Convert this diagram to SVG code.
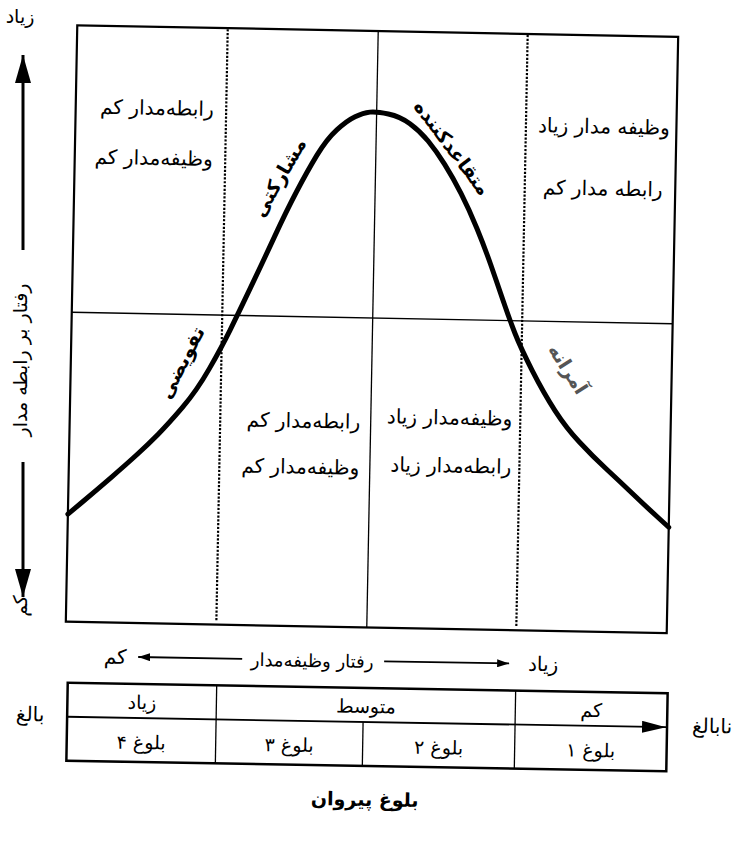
<svg xmlns="http://www.w3.org/2000/svg" width="738" height="845" viewBox="0 0 738 845">
<style>
.t{font-family:"DejaVu Sans",sans-serif;font-size:20px;fill:#000}
.m{font-size:19px}
.s{font-size:18px}
.b{font-weight:bold;font-size:19px}
.frame{fill:none;stroke:#000;stroke-width:2.2}
.thin{stroke:#000;stroke-width:1.3;fill:none}
.dot{stroke:#000;stroke-width:2.2;stroke-dasharray:2.2 1.6;fill:none}
.curve{fill:none;stroke:#000;stroke-width:5;stroke-linecap:round;stroke-linejoin:round}
.ax{stroke:#000;stroke-width:3;fill:none}
.ar{stroke:#000;stroke-width:1.8;fill:none}
</style>
<defs>
<marker id="bigh" viewBox="0 0 28 16" markerWidth="28" markerHeight="16" refX="28" refY="8" markerUnits="userSpaceOnUse" orient="auto">
<path d="M0,0 L28,8 L0,16 z" fill="#000"/>
</marker>
<marker id="sm" viewBox="0 0 12 8" markerWidth="12" markerHeight="8" refX="12" refY="4" markerUnits="userSpaceOnUse" orient="auto">
<path d="M0,0 L12,4 L0,8 z" fill="#000"/>
</marker>
<marker id="tb" viewBox="0 0 24 12" markerWidth="24" markerHeight="12" refX="24" refY="6" markerUnits="userSpaceOnUse" orient="auto">
<path d="M0,0 L24,6 L0,12 z" fill="#000"/>
</marker>
</defs>
<rect width="738" height="845" fill="#fff"/>

<g id="chart" transform="rotate(1.1 372 329)">
<rect class="frame" x="71.5" y="31" width="601" height="596.5"/>
<line class="thin" x1="71.5" y1="318" x2="672.5" y2="318"/>
<line class="thin" x1="372.5" y1="31" x2="372.5" y2="627.5"/>
<line class="dot" x1="222" y1="32" x2="222" y2="624"/>
<line class="dot" x1="522" y1="32" x2="522" y2="624"/>
<path id="curve" class="curve" d="M71.5,520 L85.75,507.5 Q100,495 114.5,482 Q129,469 139.5,459 Q150,449 160,438.5 Q170,428 184,411 Q198,394 210,372 Q222,350 230,333 Q238,316 250,289.5 Q262,263 273,238 Q284,213 294,193 Q304,173 313.5,156.5 Q323,140 333,130.5 Q343,121 351,117 Q359,113 365.75,112.2 Q372.5,111.4 384.25,113.7 Q396,116 406,123 Q416,130 424.5,140 Q433,150 441.5,163 Q450,176 458.5,192 Q467,208 475,226.5 Q483,245 489.5,262.5 Q496,280 502.5,298 Q509,316 515,330.5 Q521,345 533,367.5 Q545,390 556.5,407 Q568,424 581.5,438 Q595,452 609,464.5 Q623,477 635.5,488.5 Q648,500 660.25,510.75 L672.5,521.5"/>
<g id="q-tl">
<text class="t" x="209.5" y="119" text-anchor="end">رابطه‌مدار کم</text>
<text class="t" x="209.5" y="169" text-anchor="end">وظیفه‌مدار کم</text>
</g>
<g id="q-tr">
<text class="t" x="600" y="129" text-anchor="middle">وظیفه مدار زیاد</text>
<text class="t" x="600" y="191" text-anchor="middle">رابطه مدار کم</text>
</g>
<g id="q-bl">
<text class="t" x="362" y="429" text-anchor="end">رابطه‌مدار کم</text>
<text class="t" x="362" y="475" text-anchor="end">وظیفه‌مدار کم</text>
</g>
<g id="q-br">
<text class="t" x="514" y="423" text-anchor="end">وظیفه‌مدار زیاد</text>
<text class="t" x="514" y="471" text-anchor="end">رابطه‌مدار زیاد</text>
</g>
<g id="style-s3"><text class="t b" transform="translate(276 179) rotate(-61)" y="7" text-anchor="middle">مشارکتی</text></g>
<g id="style-s2"><text class="t b" transform="translate(449 146) rotate(52)" y="7" text-anchor="middle">متقاعدکننده</text></g>
<g id="style-s4"><text class="t b" transform="translate(182 366) rotate(-64)" y="7" text-anchor="middle">تفویضی</text></g>
<g id="style-s1"><text class="t b" transform="translate(569 365) rotate(56.5)" y="7" text-anchor="middle" style="fill:#555">آمرانه</text></g>
</g>

<g id="y-axis">
<text class="t m" x="20" y="23" text-anchor="middle">زیاد</text>
<text class="t m" transform="translate(27 360) rotate(-90)" text-anchor="middle">رفتار بر رابطه مدار</text>
<text class="t m" transform="translate(27 606) rotate(-90)" text-anchor="middle">کم</text>
</g>

<g id="x-axis" transform="rotate(1 367 727)">
<text class="t" x="114" y="668" text-anchor="middle">کم</text>
<text class="t s" x="311" y="668" text-anchor="middle">رفتار وظیفه‌مدار</text>
<text class="t" x="542" y="668" text-anchor="middle">زیاد</text>
</g>

<g id="maturity-table" transform="rotate(1 367 727)">
<rect x="67" y="688" width="600" height="78" fill="none" stroke="#000" stroke-width="2.5"/>
<line class="thin" x1="216" y1="688" x2="216" y2="766"/>
<line class="thin" x1="515" y1="688" x2="515" y2="766"/>
<line class="thin" x1="363" y1="722" x2="363" y2="766"/>
<text class="t m" x="141.5" y="713" text-anchor="middle">زیاد</text>
<text class="t m" x="365.5" y="713" text-anchor="middle">متوسط</text>
<text class="t m" x="591" y="713" text-anchor="middle">کم</text>
<text class="t m" x="141.5" y="753" text-anchor="middle">بلوغ ۴</text>
<text class="t m" x="289.5" y="753" text-anchor="middle">بلوغ ۳</text>
<text class="t m" x="439" y="753" text-anchor="middle">بلوغ ۲</text>
<text class="t m" x="591" y="753" text-anchor="middle">بلوغ ۱</text>
<text class="t" x="30" y="727" text-anchor="middle">بالغ</text>
<text class="t" x="712" y="727" text-anchor="middle">نابالغ</text>
<text class="t b" x="366" y="806" text-anchor="middle">بلوغ پیروان</text>
</g>

<g id="connectors">
<line class="ax" x1="23" y1="250" x2="23" y2="55" marker-end="url(#bigh)"/>
<line class="ax" x1="23" y1="462" x2="23" y2="597" marker-end="url(#bigh)"/>
<g transform="rotate(1 367 727)">
<line class="ar" x1="241" y1="661" x2="137" y2="661" marker-end="url(#sm)"/>
<line class="ar" x1="383" y1="661" x2="508" y2="661" marker-end="url(#sm)"/>
<line stroke="#000" stroke-width="1.8" x1="67" y1="722" x2="666" y2="722" marker-end="url(#tb)"/>
</g>
</g>
</svg>
